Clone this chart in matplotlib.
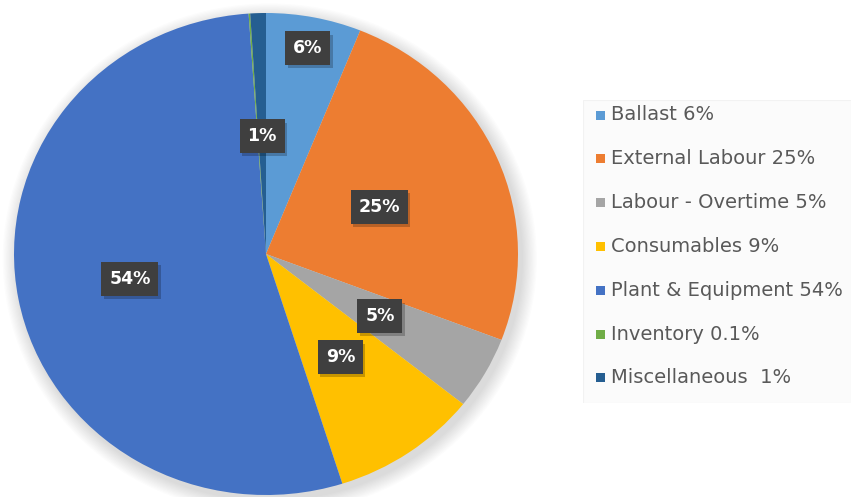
import matplotlib
matplotlib.use("Agg")
import matplotlib.pyplot as plt
import numpy as np
from matplotlib.patches import Ellipse, Rectangle

categories = ["Ballast", "External Labour", "Labour - Overtime", "Consumables",
              "Plant & Equipment", "Inventory", "Miscellaneous"]
values = [6.1, 24.7, 4.9, 9.4, 53.8, 0.1, 1.0]
slice_labels = ["6%", "25%", "5%", "9%", "54%", "", "1%"]
legend_labels = ["Ballast 6%", "External Labour 25%", "Labour - Overtime 5%",
                 "Consumables 9%", "Plant & Equipment 54%", "Inventory 0.1%",
                 "Miscellaneous  1%"]
colors = ["#5B9BD5", "#ED7D31", "#A5A5A5", "#FFC000", "#4472C4", "#70AD47", "#255E91"]
label_radius = [0.87, 0.49, 0.52, 0.52, 0.55, 0.5, 0.49]

W, H = 851, 497
fig = plt.figure(figsize=(W / 100, H / 100), dpi=100)
fig.patch.set_facecolor("white")

# pie axes (slightly elliptical like the reference)
x0, x1, ytop, ybot = 14, 518, 13, 495
ax = fig.add_axes([x0 / W, (H - ybot) / H, (x1 - x0) / W, (ybot - ytop) / H])
ax.set_xlim(-1, 1)
ax.set_ylim(-1, 1)
ax.axis("off")

# soft shadow
for i in range(12):
    s = 1.0 + 0.005 * (i + 1)
    e = Ellipse((0.015, -0.02), 2 * s, 2 * s, facecolor="#000000",
                alpha=0.01, edgecolor="none", clip_on=False, zorder=0)
    ax.add_patch(e)

wedges, _ = ax.pie(values, colors=colors, startangle=90, counterclock=False,
                   radius=1.0, wedgeprops=dict(linewidth=0, edgecolor="none"))
for w in wedges:
    w.set_zorder(1)
ax.set_aspect("auto")
ax.set_xlim(-1, 1)
ax.set_ylim(-1, 1)

# data labels
total = sum(values)
cum = 0.0
label_texts = []
for v, lab, r in zip(values, slice_labels, label_radius):
    mid = (cum + v / 2) / total * 360.0
    cum += v
    if not lab:
        continue
    th = np.deg2rad(90 - mid)
    x, y = r * np.cos(th), r * np.sin(th)
    t = ax.text(x, y, lab, ha="center", va="center", fontsize=12.5,
                fontweight="bold", family="DejaVu Sans", color="white",
                bbox=dict(boxstyle="square,pad=0.45", facecolor="#3F3F3F",
                          edgecolor="none"), zorder=4)
    label_texts.append(t)

# box shadows under labels
fig.canvas.draw()
renderer = fig.canvas.get_renderer()
inv = ax.transData.inverted()
for t in label_texts:
    bb = t.get_bbox_patch().get_window_extent(renderer)
    (ax0, ay0), (ax1, ay1) = inv.transform([[bb.x0, bb.y0], [bb.x1, bb.y1]])
    ax.add_patch(Rectangle((ax0 + 0.01, ay0 - 0.014), ax1 - ax0, ay1 - ay0,
                           facecolor="black", alpha=0.22, edgecolor="none", zorder=3))

# legend area
lx0, lx1, ly0, ly1 = 583, 851, 100, 403
lax = fig.add_axes([lx0 / W, (H - ly1) / H, (lx1 - lx0) / W, (ly1 - ly0) / H])
lax.set_xlim(lx0, lx1)
lax.set_ylim(ly1, ly0)
lax.axis("off")
lax.add_patch(Rectangle((lx0, ly0), lx1 - lx0, ly1 - ly0, facecolor="#FBFBFB",
                        edgecolor="#F2F2F2", linewidth=0.8, zorder=0))
row0, step = 115, 43.8
for i, (lab, c) in enumerate(zip(legend_labels, colors)):
    yy = row0 + i * step
    lax.add_patch(Rectangle((596, yy - 4.5), 9, 9, facecolor=c, edgecolor="none", zorder=1))
    lax.text(611, yy, lab, ha="left", va="center", fontsize=14,
             family="DejaVu Sans", color="#595959", zorder=2)

fig.savefig("out.png", dpi=100)
